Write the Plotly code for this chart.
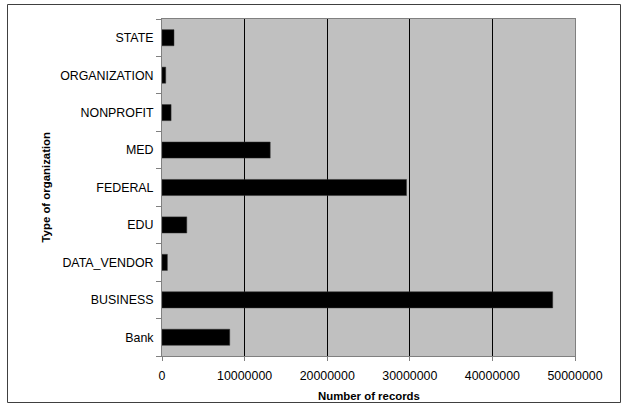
import plotly.graph_objects as go

# Records by organization type (bottom to top on the chart)
categories = ["Bank", "BUSINESS", "DATA_VENDOR", "EDU", "FEDERAL",
              "MED", "NONPROFIT", "ORGANIZATION", "STATE"]
records = [8200000, 47300000, 650000, 3000000, 29600000,
           13100000, 1100000, 450000, 1450000]
x_ticks = [0, 10000000, 20000000, 30000000, 40000000, 50000000]

W, H = 626, 406
ml, mr, mt, mb = 162, 51, 19, 50
pw, ph = W - ml - mr, H - mt - mb

def px_to_paper_x(px):
    return (px - ml) / pw

def px_to_paper_y(py):
    return (H - mb - py) / ph

fig = go.Figure(go.Bar(
    x=records, y=categories, orientation="h",
    marker=dict(color="black", line=dict(color="#333333", width=0.5)),
    width=0.43,
))

fig.update_layout(
    width=W, height=H,
    margin=dict(l=ml, r=mr, t=mt, b=mb),
    paper_bgcolor="white", plot_bgcolor="#C0C0C0",
    showlegend=False,
    font=dict(family="Liberation Sans, Arial, sans-serif", size=12.4, color="black"),
    xaxis=dict(
        range=[0, 50000000], tickvals=x_ticks, tickformat="d",
        showgrid=True, gridcolor="black", gridwidth=1,
        showline=True, linecolor="#808080", linewidth=1, mirror=True,
        ticks="outside", ticklen=4, tickcolor="#808080", ticklabelstandoff=4,
        zeroline=False, fixedrange=True,
    ),
    yaxis=dict(
        type="category", categoryorder="array", categoryarray=categories,
        showgrid=False, showline=True, linecolor="#808080", linewidth=1, mirror=True,
        ticks="outside", ticklen=5, tickcolor="#808080", tickson="boundaries",
        ticklabelstandoff=5, fixedrange=True,
    ),
    annotations=[
        dict(text="<b>Number of records</b>", xref="paper", yref="paper",
             x=0.5, y=px_to_paper_y(396), showarrow=False,
             font=dict(size=11.4), xanchor="center", yanchor="middle"),
        dict(text="<b>Type of organization</b>", xref="paper", yref="paper",
             x=px_to_paper_x(45), y=0.5, showarrow=False, textangle=-90,
             font=dict(size=11.4), xanchor="center", yanchor="middle"),
    ],
    shapes=[
        dict(type="rect", xref="paper", yref="paper",
             x0=px_to_paper_x(7.5), x1=px_to_paper_x(620.5),
             y0=px_to_paper_y(402.5), y1=px_to_paper_y(4.5),
             line=dict(color="#404040", width=1), fillcolor="rgba(0,0,0,0)",
             layer="below"),
    ],
)

fig.write_html("out.html")
